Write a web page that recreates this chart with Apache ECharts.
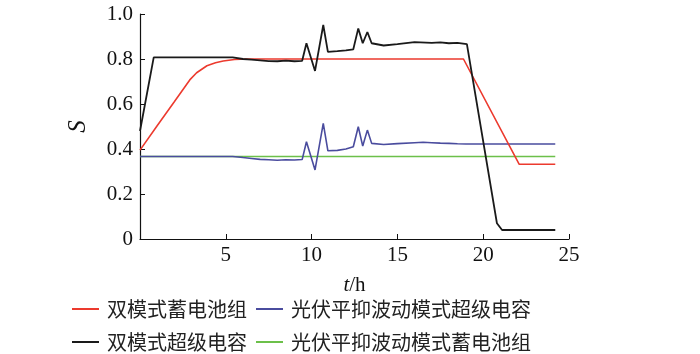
<!DOCTYPE html>
<html>
<head>
<meta charset="utf-8">
<script src="https://cdn.jsdelivr.net/npm/echarts@6/dist/echarts.min.js"></script>
<style>html,body{margin:0;padding:0;background:#fff;}#c{width:700px;height:354px;}</style>
</head>
<body>
<div id="c"></div>
<script>
// Series names
const names = ['双模式蓄电池组', '双模式超级电容', '光伏平抑波动模式超级电容', '光伏平抑波动模式蓄电池组'];

// 双模式蓄电池组 (red)
const redT = [0, 1, 2, 2.9, 3.3, 3.9, 4.4, 4.85, 5.5, 6.2, 18.85, 22.1, 24.2];
const redS = [0.395, 0.503, 0.61, 0.707, 0.739, 0.770, 0.783, 0.791, 0.798, 0.8, 0.8, 0.332, 0.332];

// 双模式超级电容 (black)
const blackT = [0, 0.8, 5.4, 6.0, 6.5, 7.0, 7.5, 8.0, 8.5, 9.0, 9.45, 9.7, 10.2, 10.68, 10.95, 11.5, 12.0, 12.43, 12.72, 12.98, 13.25, 13.5, 14.2, 15.0, 16.0, 17.0, 17.5, 18.0, 18.5, 19.05, 20.8, 21.1, 24.2];
const blackS = [0.48, 0.807, 0.807, 0.8, 0.797, 0.794, 0.791, 0.79, 0.793, 0.79, 0.792, 0.87, 0.747, 0.951, 0.832, 0.835, 0.838, 0.843, 0.936, 0.87, 0.92, 0.87, 0.86, 0.866, 0.875, 0.872, 0.874, 0.87, 0.872, 0.866, 0.07, 0.04, 0.04];

// 光伏平抑波动模式超级电容 (blue)
const blueT = [0, 5.4, 6.0, 6.5, 7.0, 7.5, 8.0, 8.5, 9.0, 9.45, 9.7, 10.2, 10.68, 10.95, 11.5, 12.0, 12.43, 12.72, 12.98, 13.25, 13.5, 14.2, 15.0, 16.0, 16.5, 17.0, 17.5, 18.0, 18.5, 19.0, 24.2];
const blueS = [0.367, 0.367, 0.362, 0.358, 0.354, 0.352, 0.35, 0.352, 0.351, 0.353, 0.432, 0.307, 0.514, 0.392, 0.394, 0.4, 0.41, 0.499, 0.413, 0.484, 0.425, 0.42, 0.424, 0.428, 0.43, 0.428, 0.426, 0.425, 0.423, 0.422, 0.422];

// 光伏平抑波动模式蓄电池组 (green)
const greenT = [0, 24.2];
const greenS = [0.367, 0.367];

// Axis ticks
const xTicks = [0, 5, 10, 15, 20, 25];
const yTicks = [0, 0.2, 0.4, 0.6, 0.8, 1.0];

const pairs = (t, s) => t.map((v, i) => [v, s[i]]);
const serif = 'Liberation Serif, Times New Roman, serif';
const cjk = 'Noto Sans CJK SC';

const legendItem = (name, left, top) => ({
  data: [name], orient: 'horizontal', left: left, top: top, padding: 0,
  icon: 'rect', itemWidth: 27, itemHeight: 2,
  textStyle: { fontFamily: cjk, fontSize: 20, color: '#222', padding: [0, 0, 0, 3] }
});

const chart = echarts.init(document.getElementById('c'));
chart.setOption({
  animation: false,
  backgroundColor: '#fff',
  grid: { left: 140, right: 131, top: 14, bottom: 115, containLabel: false },
  xAxis: {
    type: 'value', min: xTicks[0], max: xTicks[xTicks.length - 1], interval: 5,
    name: '{i|t}/h', nameLocation: 'middle', nameGap: 36,
    nameTextStyle: { fontFamily: serif, fontSize: 21, color: '#111',
      rich: { i: { fontStyle: 'italic', fontFamily: serif, fontSize: 21, color: '#111' } } },
    axisLine: { show: true, lineStyle: { color: '#111', width: 1.2 } },
    axisTick: { show: true, inside: true, length: 5, lineStyle: { color: '#111' } },
    axisLabel: { margin: 6, fontFamily: serif, fontSize: 21, color: '#111',
      formatter: v => v === 0 ? '' : String(v) },
    splitLine: { show: false }
  },
  yAxis: {
    type: 'value', min: yTicks[0], max: yTicks[yTicks.length - 1], interval: 0.2,
    name: 'S', nameLocation: 'middle', nameGap: 49, nameRotate: 90,
    nameTextStyle: { fontFamily: serif, fontSize: 25, fontStyle: 'italic', color: '#111' },
    axisLine: { show: true, lineStyle: { color: '#111', width: 1.2 } },
    axisTick: { show: true, inside: true, length: 5, lineStyle: { color: '#111' } },
    axisLabel: { margin: 7, fontFamily: serif, fontSize: 21, color: '#111',
      formatter: v => v === 0 ? '0' : v.toFixed(1) },
    splitLine: { show: false }
  },
  legend: [
    legendItem(names[0], 72, 299),
    legendItem(names[1], 72, 332),
    legendItem(names[2], 256, 299),
    legendItem(names[3], 256, 332)
  ],
  series: [
    { name: names[3], type: 'line', data: pairs(greenT, greenS), showSymbol: false,
      itemStyle: { color: '#6cc04a' }, lineStyle: { color: '#6cc04a', width: 1.6 }, z: 2 },
    { name: names[2], type: 'line', data: pairs(blueT, blueS), showSymbol: false,
      itemStyle: { color: '#4a4c9e' }, lineStyle: { color: '#4a4c9e', width: 1.6 }, z: 3 },
    { name: names[0], type: 'line', data: pairs(redT, redS), showSymbol: false,
      itemStyle: { color: '#ec3a2e' }, lineStyle: { color: '#ec3a2e', width: 1.6 }, z: 4 },
    { name: names[1], type: 'line', data: pairs(blackT, blackS), showSymbol: false,
      itemStyle: { color: '#1a1a1a' }, lineStyle: { color: '#1a1a1a', width: 1.8 }, z: 5 }
  ]
});
</script>
</body>
</html>
